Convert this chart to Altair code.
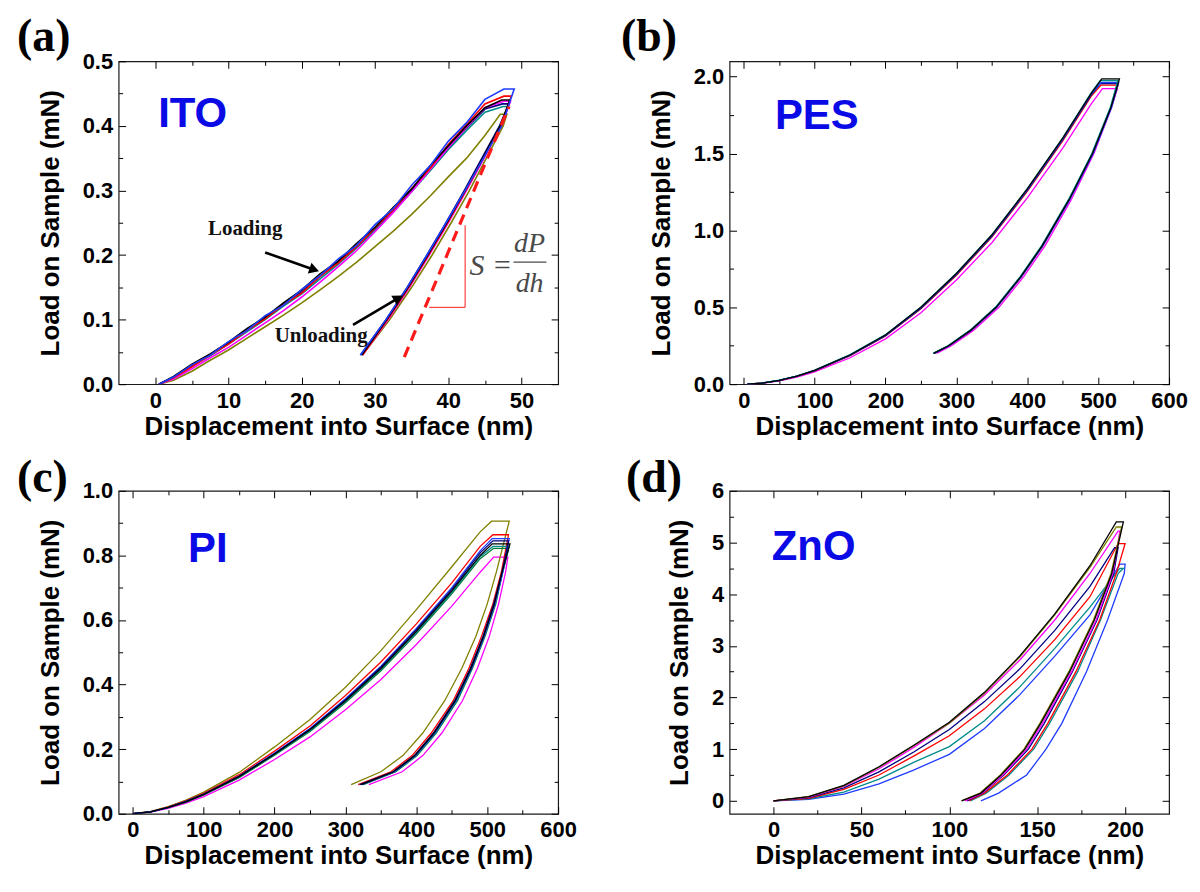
import altair as alt
import pandas as pd

SANS = "Liberation Sans, Arial, sans-serif"
SERIF = "Liberation Serif, Times New Roman, serif"
BLUE_TXT = "#0a0ae6"
W, H = 441, 324

COLOR_NAMES = ["black", "red", "blue", "magenta", "olive", "navy", "teal", "green"]
COLOR_HEX = ["#000000", "#ff0000", "#1f3cff", "#ff00ff", "#808000", "#000080", "#008b8b", "#007a3a"]

PANEL_LABELS = ["(a)", "(b)", "(c)", "(d)"]
MATERIALS = ["ITO", "PES", "PI", "ZnO"]
MAT_X = [0.4, 44, 78, -1]
MAT_Y = [0.398, 1.66, 0.78, 4.67]

# ---------------- (a) ITO ----------------
A_XMAJ = [0, 10, 20, 30, 40, 50]
A_XMIN = [5, 15, 25, 35, 45]
A_YMAJ = [0.0, 0.1, 0.2, 0.3, 0.4, 0.5]
A_YMIN = [0.05, 0.15, 0.25, 0.35, 0.45]
A_LOAD_H = [0.5, 2.5, 5, 7.5, 10, 12.5, 15, 17.5, 20, 22.5, 25, 27.5, 30, 32.5, 35, 37.5, 40, 42.5, 45]
A_LOAD_P = {
    "olive":   [0, 0.006, 0.020, 0.037, 0.053, 0.071, 0.089, 0.107, 0.126, 0.146, 0.167, 0.189, 0.213, 0.237, 0.263, 0.291, 0.321, 0.350, 0.385],
    "teal":    [0, 0.010, 0.028, 0.044, 0.062, 0.081, 0.100, 0.121, 0.140, 0.163, 0.186, 0.211, 0.238, 0.267, 0.298, 0.330, 0.363, 0.393, 0.421],
    "navy":    [0, 0.011, 0.029, 0.046, 0.063, 0.084, 0.102, 0.124, 0.143, 0.167, 0.189, 0.214, 0.241, 0.270, 0.301, 0.333, 0.366, 0.397, 0.426],
    "magenta": [0, 0.008, 0.024, 0.041, 0.057, 0.076, 0.095, 0.114, 0.135, 0.158, 0.182, 0.207, 0.236, 0.266, 0.298, 0.332, 0.366, 0.398, 0.428],
    "red":     [0, 0.010, 0.027, 0.045, 0.062, 0.083, 0.101, 0.123, 0.141, 0.167, 0.188, 0.213, 0.242, 0.270, 0.303, 0.334, 0.371, 0.402, 0.434],
    "black":   [0, 0.012, 0.031, 0.047, 0.065, 0.086, 0.104, 0.126, 0.146, 0.171, 0.191, 0.218, 0.243, 0.274, 0.302, 0.338, 0.369, 0.400, 0.428],
    "blue":    [0, 0.011, 0.030, 0.045, 0.066, 0.083, 0.106, 0.122, 0.147, 0.168, 0.194, 0.215, 0.247, 0.272, 0.308, 0.338, 0.376, 0.405, 0.441],
}
A_PEAK = {
    "olive": (47.1, 48.0, 0.418), "teal": (47.5, 48.2, 0.430), "navy": (47.4, 48.3, 0.434),
    "magenta": (47.6, 48.5, 0.438), "red": (47.6, 48.6, 0.446), "black": (47.3, 48.4, 0.440),
    "blue": (47.6, 49.0, 0.457),
}
A_UNLOAD_P = [0.40, 0.35, 0.30, 0.25, 0.20, 0.15, 0.10, 0.045]
A_UNLOAD_H = {
    "olive":   [47.5, 45.2, 42.9, 40.4, 37.8, 35.0, 32.0, 28.3],
    "teal":    [47.1, 44.8, 42.4, 39.9, 37.3, 34.6, 31.7, 28.1],
    "navy":    [47.0, 44.6, 42.2, 39.7, 37.1, 34.4, 31.5, 28.0],
    "magenta": [47.2, 44.9, 42.5, 40.0, 37.4, 34.7, 31.8, 28.3],
    "red":     [47.2, 44.8, 42.4, 39.9, 37.3, 34.6, 31.7, 28.3],
    "black":   [47.1, 44.7, 42.3, 39.8, 37.2, 34.5, 31.6, 28.2],
    "blue":    [47.3, 44.8, 42.3, 39.7, 37.1, 34.4, 31.5, 28.0],
}
A_TEXT = ["Loading", "Unloading"]
A_TEXT_H = [7.2, 16.3]
A_TEXT_P = [0.231, 0.065]
A_ARROW_H = [[15.0, 21.5], [27.0, 33.0]]
A_ARROW_P = [[0.204, 0.178], [0.092, 0.132]]
A_ARROW_ANGLE = [109, 59]
A_DASH_H = [34.0, 48.3]
A_DASH_P = [0.042, 0.43]
A_SLOPE_H = [37.4, 42.3, 42.3]
A_SLOPE_P = [0.119, 0.119, 0.246]
A_FORM_TXT = ["S =", "dP", "dh"]
A_FORM_H = [42.9, 51.1, 51.1]
A_FORM_P = [0.169, 0.204, 0.142]
A_FORM_ALIGN = ["left", "center", "center"]
A_BAR_H = [48.9, 53.4]
A_BAR_P = [0.189, 0.189]

# ---------------- (b) PES ----------------
B_XMAJ = [0, 100, 200, 300, 400, 500, 600]
B_XMIN = [50, 150, 250, 350, 450, 550]
B_YMAJ = [0.0, 0.5, 1.0, 1.5, 2.0]
B_YMIN = [0.25, 0.75, 1.25, 1.75]
B_LOAD_H = [5, 25, 50, 75, 100, 150, 200, 250, 300, 350, 400, 450, 490]
B_LOAD_P = {
    "magenta": [0, 0.005, 0.021, 0.046, 0.080, 0.172, 0.295, 0.465, 0.678, 0.920, 1.212, 1.535, 1.822],
    "red":     [0, 0.006, 0.024, 0.051, 0.087, 0.185, 0.313, 0.490, 0.708, 0.956, 1.254, 1.583, 1.872],
    "navy":    [0, 0.006, 0.024, 0.052, 0.088, 0.187, 0.316, 0.494, 0.713, 0.962, 1.260, 1.590, 1.880],
    "blue":    [0, 0.007, 0.025, 0.052, 0.089, 0.188, 0.318, 0.497, 0.716, 0.965, 1.264, 1.594, 1.885],
    "teal":    [0, 0.007, 0.026, 0.053, 0.091, 0.192, 0.322, 0.502, 0.722, 0.972, 1.272, 1.602, 1.895],
    "black":   [0, 0.007, 0.025, 0.053, 0.090, 0.190, 0.320, 0.500, 0.720, 0.970, 1.270, 1.600, 1.890],
}
B_PEAK = {
    "magenta": (506, 527, 1.922), "red": (504, 528, 1.945), "navy": (503, 527, 1.955),
    "blue": (504, 529, 1.962), "teal": (503, 528, 1.975), "black": (505, 530, 1.985),
}
B_UNLOAD_P = [1.8, 1.5, 1.2, 0.9, 0.7, 0.5, 0.35, 0.25, 0.2]
B_UNLOAD_H = {
    "magenta": [519, 494, 462, 425, 395, 360, 324, 293, 272],
    "red":     [518, 492, 459, 422, 392, 357, 321, 290, 268],
    "navy":    [518, 492, 459, 421, 391, 356, 320, 289, 268],
    "blue":    [519, 493, 460, 422, 392, 357, 321, 290, 269],
    "teal":    [517, 491, 458, 420, 390, 355, 319, 288, 267],
    "black":   [518, 492, 459, 421, 391, 356, 320, 289, 268],
}

# ---------------- (c) PI ----------------
C_XMAJ = [0, 100, 200, 300, 400, 500, 600]
C_XMIN = [50, 150, 250, 350, 450, 550]
C_YMAJ = [0.0, 0.2, 0.4, 0.6, 0.8, 1.0]
C_YMIN = [0.1, 0.3, 0.5, 0.7, 0.9]
C_LOAD_H = [0, 25, 50, 75, 100, 150, 200, 250, 300, 350, 400, 450, 490]
C_LOAD_P = {
    "magenta": [0, 0.005, 0.017, 0.033, 0.053, 0.104, 0.168, 0.238, 0.322, 0.416, 0.524, 0.643, 0.748],
    "olive":   [0, 0.007, 0.022, 0.042, 0.067, 0.128, 0.207, 0.292, 0.392, 0.505, 0.632, 0.765, 0.873],
    "red":     [0, 0.006, 0.021, 0.040, 0.063, 0.121, 0.194, 0.272, 0.366, 0.470, 0.588, 0.715, 0.828],
    "green":   [0, 0.006, 0.019, 0.036, 0.058, 0.112, 0.181, 0.255, 0.344, 0.443, 0.557, 0.681, 0.790],
    "teal":    [0, 0.006, 0.020, 0.037, 0.059, 0.114, 0.183, 0.258, 0.347, 0.447, 0.561, 0.686, 0.796],
    "blue":    [0, 0.006, 0.020, 0.038, 0.061, 0.117, 0.188, 0.264, 0.356, 0.457, 0.574, 0.700, 0.814],
    "navy":    [0, 0.006, 0.020, 0.038, 0.060, 0.116, 0.186, 0.262, 0.353, 0.454, 0.570, 0.695, 0.808],
    "black":   [0, 0.006, 0.020, 0.037, 0.060, 0.115, 0.185, 0.260, 0.350, 0.450, 0.565, 0.690, 0.800],
}
C_PEAK = {
    "magenta": (509, 529, 0.795), "olive": (506, 531, 0.906), "red": (508, 530, 0.864),
    "green": (509, 530, 0.822), "teal": (508, 531, 0.828), "blue": (507, 531, 0.852),
    "navy": (508, 530, 0.845), "black": (507, 532, 0.836),
}
C_UNLOAD_P = [0.75, 0.65, 0.55, 0.45, 0.35, 0.25, 0.18, 0.13, 0.09]
C_UNLOAD_H = {
    "magenta": [526, 516, 503, 486, 465, 436, 409, 380, 333],
    "olive":   [513, 500, 484, 464, 440, 409, 381, 350, 308],
    "red":     [520, 508, 492, 474, 452, 421, 394, 364, 318],
    "green":   [522, 512, 497, 479, 458, 428, 401, 371, 325],
    "teal":    [522, 511, 496, 478, 457, 427, 400, 370, 324],
    "blue":    [522, 511, 496, 478, 456, 426, 399, 369, 323],
    "navy":    [521, 509, 494, 476, 454, 424, 397, 367, 320],
    "black":   [521, 510, 495, 477, 455, 425, 398, 368, 322],
}

# ---------------- (d) ZnO ----------------
D_XMAJ = [0, 50, 100, 150, 200]
D_XMIN = [25, 75, 125, 175]
D_YMAJ = [0, 1, 2, 3, 4, 5, 6]
D_YMIN = [0.5, 1.5, 2.5, 3.5, 4.5, 5.5]
D_LOAD_H = [0, 20, 40, 60, 80, 100, 120, 140, 160, 180]
D_LOAD_P = {
    "blue":    [0, 0.03, 0.13, 0.33, 0.60, 0.90, 1.40, 2.05, 2.80, 3.60],
    "teal":    [0, 0.04, 0.17, 0.42, 0.75, 1.05, 1.55, 2.20, 2.95, 3.75],
    "red":     [0, 0.05, 0.22, 0.50, 0.87, 1.26, 1.78, 2.40, 3.12, 3.95],
    "navy":    [0, 0.06, 0.25, 0.56, 0.95, 1.38, 1.92, 2.55, 3.30, 4.15],
    "magenta": [0, 0.07, 0.28, 0.62, 1.04, 1.50, 2.05, 2.72, 3.50, 4.40],
    "olive":   [0, 0.08, 0.29, 0.65, 1.07, 1.50, 2.08, 2.78, 3.60, 4.52],
    "black":   [0, 0.08, 0.30, 0.66, 1.08, 1.52, 2.10, 2.80, 3.62, 4.55],
}
D_PEAK = {
    "blue": (197, 200, 4.58), "teal": (197, 199, 4.50), "red": (196, 200, 4.98),
    "navy": (194, 196, 4.90), "magenta": (196, 197, 5.22), "olive": (195, 198, 5.30),
    "black": (195, 199, 5.40),
}
D_UNLOAD_P = [4.4, 3.5, 2.5, 1.5, 1.0, 0.5, 0.15, 0.0]
D_UNLOAD_H = {
    "blue":    [199.5, 190.0, 178.0, 164.0, 155.0, 144.0, 128.0, 118.0],
    "teal":    [196.0, 186.0, 173.0, 157.0, 148.0, 134.0, 121.0, 112.0],
    "red":     [195.0, 185.5, 172.0, 156.0, 147.0, 133.0, 120.0, 111.0],
    "navy":    [193.5, 184.0, 170.0, 154.0, 145.0, 131.0, 119.0, 110.0],
    "magenta": [193.0, 183.5, 169.5, 153.0, 144.0, 130.5, 118.5, 109.0],
    "olive":   [192.0, 182.0, 168.0, 151.5, 142.5, 129.0, 117.5, 107.0],
    "black":   [192.4, 182.5, 168.5, 152.0, 143.0, 129.5, 118.0, 107.0],
}


def curves(load_h, load_p, peak, unload_p, unload_h):
    rows = []
    for t, ps in load_p.items():
        pts = list(zip(load_h, ps))
        h0, h1, pm = peak[t]
        pts += [(h0, pm), (h1, pm)]
        pts += list(zip(unload_h[t], unload_p))
        for i, (h, p) in enumerate(pts):
            rows.append({"test": t, "i": i, "h": h, "P": p})
    return pd.DataFrame(rows)


def label_axis(orient, title, values, fmt, title_pad):
    return alt.Axis(orient=orient, title=title, values=values, format=fmt, ticks=False,
                    domain=False, grid=False, labelFont=SANS, labelFontSize=22,
                    labelFontWeight="bold", labelColor="#000", labelPadding=6,
                    labelFlush=False, labelOverlap=False, titleFont=SANS,
                    titleFontSize=26, titleFontWeight="bold", titleColor="#000",
                    titlePadding=title_pad)


def tick_axis(orient, offset, values, step):
    test = f"abs(datum.value/{step} - round(datum.value/{step})) < 0.001"
    return alt.Axis(orient=orient, offset=offset, values=values, labels=False, domain=False,
                    grid=False, title=None, ticks=True, tickColor="#000", tickWidth=1,
                    tickSize={"condition": {"test": test, "value": 7}, "value": 4})


def panel(df, xdom, ydom, xmaj, xmin, ymaj, ymin, xstep, ystep, yfmt, idx, lab_dx, lab_dy,
          lw, extras=()):
    xs = alt.Scale(domain=xdom, nice=False, zero=False)
    ys = alt.Scale(domain=ydom, nice=False, zero=False)
    lines = alt.Chart(df).mark_line(strokeWidth=lw, clip=True).encode(
        x=alt.X("h:Q", scale=xs, axis=label_axis("bottom", "Displacement into Surface (nm)", xmaj, "d", 2)),
        y=alt.Y("P:Q", scale=ys, axis=label_axis("left", "Load on Sample (mN)", ymaj, yfmt, 19)),
        color=alt.Color("test:N", scale=alt.Scale(domain=COLOR_NAMES, range=COLOR_HEX), legend=None),
        detail="test:N",
        order="i:Q",
    )
    mat = alt.Chart(pd.DataFrame({"t": [MATERIALS[idx]], "h": [MAT_X[idx]], "P": [MAT_Y[idx]]})).mark_text(
        font=SANS, fontSize=42, fontWeight="bold", color=BLUE_TXT, align="left", baseline="alphabetic"
    ).encode(x=alt.X("h:Q", scale=xs, axis=None), y=alt.Y("P:Q", scale=ys, axis=None), text="t:N")
    xall = sorted(xmaj + xmin)
    yall = sorted(ymaj + ymin)
    t1 = alt.Chart(df).mark_point(opacity=0).encode(
        x=alt.X("h:Q", scale=xs, axis=tick_axis("top", -H, xall, xstep)),
        y=alt.Y("P:Q", scale=ys, axis=tick_axis("right", -W, yall, ystep)),
    )
    t2 = alt.Chart(df).mark_point(opacity=0).encode(
        x=alt.X("h:Q", scale=xs, axis=tick_axis("bottom", -H, xall, xstep)),
        y=alt.Y("P:Q", scale=ys, axis=tick_axis("left", -W, yall, ystep)),
    )
    lab = alt.Chart(pd.DataFrame({"t": [PANEL_LABELS[idx]]})).mark_text(
        font=SERIF, fontSize=46, fontWeight="bold", color="#000", align="left", baseline="alphabetic"
    ).encode(text="t:N", x=alt.value(lab_dx), y=alt.value(lab_dy))
    ex = [e(xs, ys) for e in extras]
    return alt.layer(lines, *ex, mat, t1, t2, lab).resolve_axis(
        x="independent", y="independent").properties(width=W, height=H)


# ---- annotations for (a)
def a_dash(xs, ys):
    d = pd.DataFrame({"h": A_DASH_H, "P": A_DASH_P, "i": [0, 1]})
    return alt.Chart(d).mark_line(color="#ff1a1a", strokeWidth=3.2, strokeDash=[11, 7]).encode(
        x=alt.X("h:Q", scale=xs, axis=None), y=alt.Y("P:Q", scale=ys, axis=None), order="i:Q")


def a_slope(xs, ys):
    d = pd.DataFrame({"h": A_SLOPE_H, "P": A_SLOPE_P, "i": [0, 1, 2]})
    return alt.Chart(d).mark_line(color="#ff1a1a", strokeWidth=1).encode(
        x=alt.X("h:Q", scale=xs, axis=None), y=alt.Y("P:Q", scale=ys, axis=None), order="i:Q")


def a_text(xs, ys):
    d = pd.DataFrame({"t": A_TEXT, "h": A_TEXT_H, "P": A_TEXT_P})
    return alt.Chart(d).mark_text(font=SERIF, fontSize=21, fontWeight="bold", color="#111",
                                  align="left", baseline="alphabetic").encode(
        x=alt.X("h:Q", scale=xs, axis=None), y=alt.Y("P:Q", scale=ys, axis=None), text="t:N")


def a_arrows(xs, ys):
    rows = []
    for k, (hh, pp) in enumerate(zip(A_ARROW_H, A_ARROW_P)):
        for i, (h, p) in enumerate(zip(hh, pp)):
            rows.append({"k": k, "i": i, "h": h, "P": p})
    d = pd.DataFrame(rows)
    return alt.Chart(d).mark_line(color="#000", strokeWidth=2.6).encode(
        x=alt.X("h:Q", scale=xs, axis=None), y=alt.Y("P:Q", scale=ys, axis=None),
        detail="k:N", order="i:Q")


def a_heads(xs, ys):
    d = pd.DataFrame({"h": [a[1] for a in A_ARROW_H], "P": [a[1] for a in A_ARROW_P],
                      "ang": A_ARROW_ANGLE})
    return alt.Chart(d).mark_point(shape="triangle", filled=True, size=130, color="#000", opacity=1).encode(
        x=alt.X("h:Q", scale=xs, axis=None), y=alt.Y("P:Q", scale=ys, axis=None),
        angle=alt.Angle("ang:Q", scale=None))


def a_formula(xs, ys):
    d = pd.DataFrame({"t": A_FORM_TXT, "h": A_FORM_H, "P": A_FORM_P, "al": A_FORM_ALIGN})
    base = alt.Chart(d)
    left = base.transform_filter("datum.al == 'left'").mark_text(
        font=SERIF, fontSize=30, fontStyle="italic", color="#4a4a4a", align="left", baseline="alphabetic")
    cen = base.transform_filter("datum.al == 'center'").mark_text(
        font=SERIF, fontSize=28, fontStyle="italic", color="#4a4a4a", align="center", baseline="alphabetic")
    enc = dict(x=alt.X("h:Q", scale=xs, axis=None), y=alt.Y("P:Q", scale=ys, axis=None), text="t:N")
    return alt.layer(left.encode(**enc), cen.encode(**enc))


def a_bar(xs, ys):
    d = pd.DataFrame({"h": A_BAR_H, "P": A_BAR_P, "i": [0, 1]})
    return alt.Chart(d).mark_line(color="#4a4a4a", strokeWidth=1.2).encode(
        x=alt.X("h:Q", scale=xs, axis=None), y=alt.Y("P:Q", scale=ys, axis=None), order="i:Q")


dfa = curves(A_LOAD_H, A_LOAD_P, A_PEAK, A_UNLOAD_P, A_UNLOAD_H)
dfb = curves(B_LOAD_H, B_LOAD_P, B_PEAK, B_UNLOAD_P, B_UNLOAD_H)
dfc = curves(C_LOAD_H, C_LOAD_P, C_PEAK, C_UNLOAD_P, C_UNLOAD_H)
dfd = curves(D_LOAD_H, D_LOAD_P, D_PEAK, D_UNLOAD_P, D_UNLOAD_H)

pa = panel(dfa, [-5, 55], [0, 0.5], A_XMAJ, A_XMIN, A_YMAJ, A_YMIN, 10, 0.1, ".1f", 0, -102, -10, 1.6,
           extras=(a_dash, a_slope, a_text, a_arrows, a_heads, a_formula, a_bar))
pb = panel(dfb, [-20, 600], [0, 2.1], B_XMAJ, B_XMIN, B_YMAJ, B_YMIN, 100, 0.5, ".1f", 1, -109, -10, 1.3)
pc = panel(dfc, [-20, 600], [0, 1.0], C_XMAJ, C_XMIN, C_YMAJ, C_YMIN, 100, 0.2, ".1f", 2, -102, 1, 1.3)
pd_ = panel(dfd, [-25, 225], [-0.25, 6], D_XMAJ, D_XMIN, D_YMAJ, D_YMIN, 50, 1, "d", 3, -104, 1, 1.3)

chart = alt.concat(pa, pb, pc, pd_, columns=2, spacing={"row": 107, "column": 172}, bounds="flush").properties(
    padding={"left": 8, "top": 4, "right": 4, "bottom": 4}
).configure_view(stroke="#1a1a1a", strokeWidth=1.2)

chart.save("out.html", embed_options={"renderer": "svg", "actions": False})
